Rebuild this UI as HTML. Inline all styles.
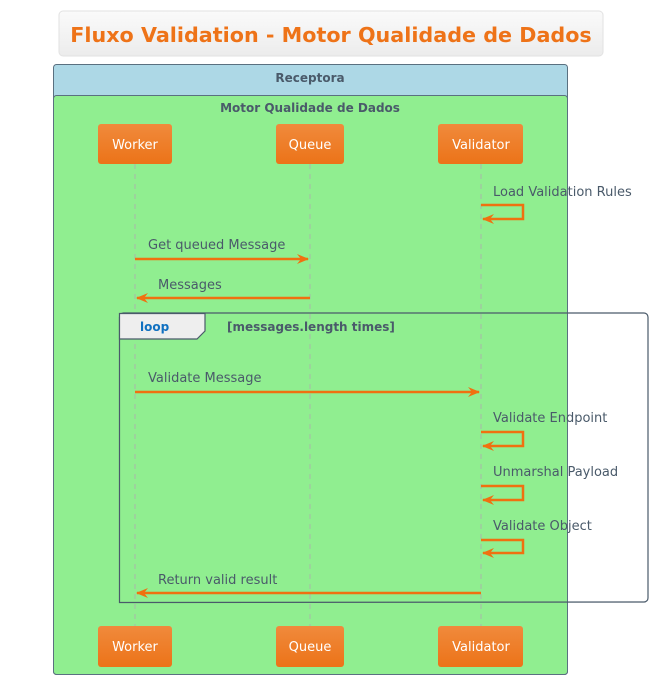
<html><body style="margin:0;background:#fff">
<svg width="653" height="679" viewBox="0 0 653 679" xmlns="http://www.w3.org/2000/svg" font-family="'DejaVu Sans','Liberation Sans',sans-serif">
<defs>
<linearGradient id="g" x1="0" y1="0" x2="0" y2="1"><stop offset="0" stop-color="#f08a3c"/><stop offset="1" stop-color="#ec7318"/></linearGradient>
<linearGradient id="t" x1="0" y1="0" x2="0" y2="1"><stop offset="0" stop-color="#fafafa"/><stop offset="1" stop-color="#ececec"/></linearGradient>
<marker id="a" markerWidth="12" markerHeight="10" refX="11" refY="5" orient="auto" markerUnits="userSpaceOnUse"><path d="M0,0 L12,5 L0,10 L4,5 Z" fill="#f07010"/></marker>
</defs>
<rect x="59" y="11" width="544" height="45" rx="4" fill="url(#t)" stroke="#e2e2e2"/>
<text x="331" y="42" text-anchor="middle" font-size="20.7" font-weight="bold" fill="#ee7318">Fluxo Validation - Motor Qualidade de Dados</text>
<rect x="53.5" y="64.5" width="514" height="610" rx="3" fill="#add8e6" stroke="#5a7080"/>
<rect x="53.5" y="95.5" width="514" height="579" rx="3" fill="#90ee90" stroke="#5a7080"/>
<text x="310" y="82" text-anchor="middle" font-size="12" font-weight="bold" fill="#4a5a6a">Receptora</text>
<text x="310" y="112" text-anchor="middle" font-size="12" font-weight="bold" fill="#4a5a6a">Motor Qualidade de Dados</text>
<g stroke="#a8b8a8" stroke-dasharray="5,5"><line x1="135" y1="164" x2="135" y2="626"/><line x1="310" y1="164" x2="310" y2="626"/><line x1="481" y1="164" x2="481" y2="626"/></g>
<g font-size="13" fill="#fff" text-anchor="middle">
<rect x="98" y="124" width="74" height="40" rx="3" fill="url(#g)"/><text x="135" y="149">Worker</text>
<rect x="276" y="124" width="68" height="40" rx="3" fill="url(#g)"/><text x="310" y="149">Queue</text>
<rect x="438" y="124" width="85" height="40" rx="3" fill="url(#g)"/><text x="481" y="149">Validator</text>
<rect x="98" y="626" width="74" height="41" rx="3" fill="url(#g)"/><text x="135" y="651">Worker</text>
<rect x="276" y="626" width="68" height="41" rx="3" fill="url(#g)"/><text x="310" y="651">Queue</text>
<rect x="438" y="626" width="85" height="41" rx="3" fill="url(#g)"/><text x="481" y="651">Validator</text>
</g>
<path d="M119.5,602.5 V317 a4,4 0 0 1 4,-4 H644 a4,4 0 0 1 4,4 V598 a4,4 0 0 1 -4,4 Z" fill="none" stroke="#4a5a6a" stroke-width="1.2"/>
<path d="M119.5,313.5 H205 V331 L197,339 H119.5 Z" fill="#eee" stroke="#4a5a6a" stroke-width="1.2"/>
<text x="140" y="331" font-size="12" font-weight="bold" fill="#1070c0">loop</text>
<text x="227" y="331" font-size="12" font-weight="bold" fill="#4a5a6a">[messages.length times]</text>
<g stroke="#f07010" stroke-width="2.5" fill="none">
<path d="M481,205 H523 V219 H483" marker-end="url(#a)"/>
<line x1="135" y1="259" x2="308" y2="259" marker-end="url(#a)"/>
<line x1="310" y1="298" x2="137" y2="298" marker-end="url(#a)"/>
<line x1="135" y1="392" x2="479" y2="392" marker-end="url(#a)"/>
<path d="M481,432 H523 V446 H483" marker-end="url(#a)"/>
<path d="M481,486 H523 V500 H483" marker-end="url(#a)"/>
<path d="M481,540 H523 V553 H483" marker-end="url(#a)"/>
<line x1="481" y1="593" x2="137" y2="593" marker-end="url(#a)"/>
</g>
<g font-size="13" fill="#4a5a6a">
<text x="493" y="196">Load Validation Rules</text>
<text x="148" y="249">Get queued Message</text>
<text x="158" y="289">Messages</text>
<text x="148" y="382">Validate Message</text>
<text x="493" y="422">Validate Endpoint</text>
<text x="493" y="476">Unmarshal Payload</text>
<text x="493" y="530">Validate Object</text>
<text x="158" y="584">Return valid result</text>
</g>
</svg>
</body></html>
